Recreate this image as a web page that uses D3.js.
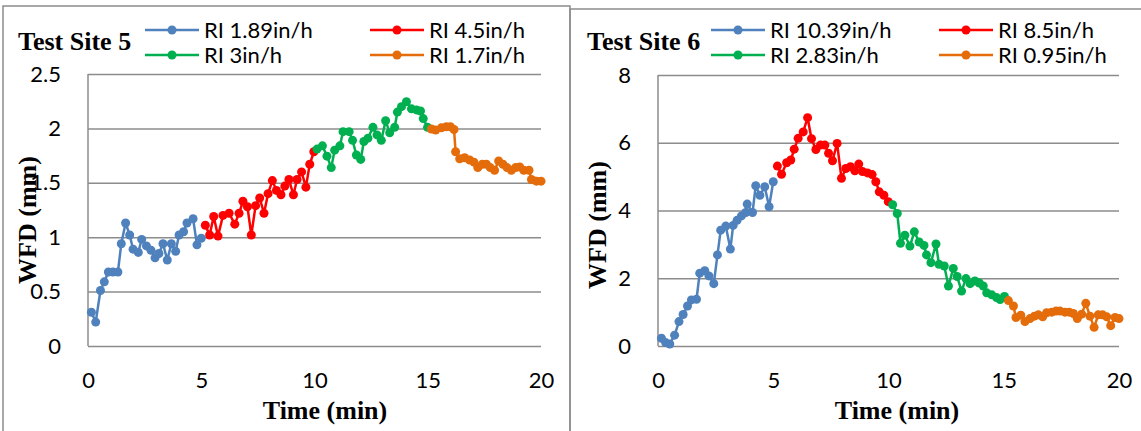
<!DOCTYPE html>
<html lang="en">
  <head>
    <meta charset="utf-8" />
    <script src="https://d3js.org/d3.v7.min.js" charset="utf-8"></script>
  </head>

  <style>
    body {
      margin: 0;
      background: #fff;
    }
    .tick-label {
      font-family: 'Lato', 'Open Sans', sans-serif;
      font-size: 22px;
      fill: #000;
    }
    .legend-text {
      font-family: 'Lato', 'Open Sans', sans-serif;
      font-size: 22px;
      fill: #000;
    }
    .serif-bold {
      font-family: 'Liberation Serif', 'DejaVu Serif', serif;
      font-weight: bold;
      font-size: 26px;
      fill: #000;
    }
  </style>

  <body>
    <div id="chart"></div>

    <script type="text/javascript">
      // data //--------------------------------------------------------

      // [time (min), WFD (mm)]
      var site5_ri189 = [
        [0.15, 0.31], [0.34, 0.22], [0.55, 0.51], [0.72, 0.59], [0.9, 0.68],
        [1.1, 0.68], [1.32, 0.68], [1.47, 0.94], [1.66, 1.13], [1.84, 1.02],
        [1.99, 0.89], [2.22, 0.86], [2.37, 0.98], [2.58, 0.92], [2.78, 0.88],
        [2.96, 0.81], [3.13, 0.85], [3.31, 0.94], [3.5, 0.79], [3.68, 0.94],
        [3.87, 0.87], [4.02, 1.02], [4.22, 1.05], [4.37, 1.13], [4.64, 1.17],
        [4.81, 0.93], [5.0, 0.99]
      ];
      var site5_ri45 = [
        [5.18, 1.11], [5.37, 1.02], [5.55, 1.19], [5.74, 1.01], [5.96, 1.2],
        [6.23, 1.22], [6.48, 1.12], [6.67, 1.22], [6.84, 1.33], [7.04, 1.28],
        [7.21, 1.02], [7.4, 1.29], [7.58, 1.36], [7.77, 1.22], [7.95, 1.4],
        [8.14, 1.52], [8.32, 1.43], [8.52, 1.39], [8.69, 1.47], [8.87, 1.53],
        [9.07, 1.39], [9.23, 1.53], [9.43, 1.6], [9.62, 1.46], [9.79, 1.67],
        [9.97, 1.785]
      ];
      var site5_ri3 = [
        [10.11, 1.81], [10.35, 1.84], [10.55, 1.745], [10.74, 1.64], [10.89, 1.8],
        [11.12, 1.84], [11.26, 1.97], [11.53, 1.97], [11.68, 1.89], [11.85, 1.755],
        [12.04, 1.715], [12.18, 1.88], [12.36, 1.91], [12.58, 2.01], [12.76, 1.94],
        [12.95, 1.89], [13.14, 2.07], [13.32, 1.96], [13.54, 2.01], [13.66, 2.15],
        [13.84, 2.2], [14.06, 2.245], [14.28, 2.18], [14.5, 2.17], [14.68, 2.16],
        [14.8, 2.09], [14.99, 2.01]
      ];
      var site5_ri17 = [
        [15.16, 1.995], [15.35, 1.985], [15.6, 2.005], [15.82, 2.015], [16.0, 2.015],
        [16.16, 1.99], [16.23, 1.785], [16.41, 1.72], [16.63, 1.73], [16.85, 1.71],
        [17.04, 1.69], [17.21, 1.64], [17.41, 1.67], [17.59, 1.67], [17.76, 1.64],
        [17.95, 1.615], [18.13, 1.7], [18.32, 1.67], [18.5, 1.64], [18.69, 1.615],
        [18.88, 1.64], [19.06, 1.645], [19.24, 1.615], [19.47, 1.615], [19.58, 1.53],
        [19.8, 1.515], [20.0, 1.515]
      ];

      var site6_ri1039 = [
        [0.15, 0.23], [0.33, 0.1], [0.51, 0.06], [0.72, 0.32], [0.91, 0.72],
        [1.09, 0.93], [1.28, 1.18], [1.45, 1.36], [1.67, 1.38], [1.81, 2.15],
        [2.03, 2.22], [2.21, 2.07], [2.42, 1.84], [2.58, 2.69], [2.72, 3.42],
        [2.94, 3.54], [3.14, 2.86], [3.26, 3.56], [3.43, 3.71], [3.62, 3.84],
        [3.81, 3.94], [3.87, 4.19], [4.1, 3.94], [4.24, 4.73], [4.42, 4.45],
        [4.63, 4.7], [4.82, 4.11], [5.0, 4.85]
      ];
      var site6_ri85 = [
        [5.18, 5.31], [5.36, 5.07], [5.58, 5.41], [5.76, 5.49], [5.91, 5.81],
        [6.08, 6.13], [6.3, 6.32], [6.49, 6.74], [6.66, 6.12], [6.85, 5.8],
        [7.05, 5.93], [7.24, 5.93], [7.4, 5.69], [7.57, 5.47], [7.77, 5.98],
        [7.96, 4.95], [8.15, 5.24], [8.35, 5.29], [8.54, 5.17], [8.71, 5.37],
        [8.87, 5.15], [9.09, 5.11], [9.29, 5.06], [9.45, 4.85], [9.6, 4.55],
        [9.8, 4.45], [9.99, 4.26]
      ];
      var site6_ri283 = [
        [10.18, 4.17], [10.38, 3.91], [10.52, 3.03], [10.71, 3.27], [10.93, 2.95],
        [11.12, 3.37], [11.33, 3.07], [11.54, 2.97], [11.65, 2.69], [11.84, 2.46],
        [12.06, 3.01], [12.19, 2.41], [12.42, 2.36], [12.6, 1.77], [12.81, 2.29],
        [12.98, 2.05], [13.17, 1.62], [13.36, 1.99], [13.54, 1.84], [13.75, 1.92],
        [13.94, 1.86], [14.11, 1.77], [14.26, 1.57], [14.48, 1.51], [14.69, 1.43],
        [14.84, 1.37], [15.03, 1.46]
      ];
      var site6_ri095 = [
        [15.2, 1.34], [15.42, 1.18], [15.53, 0.84], [15.74, 0.91], [15.92, 0.72],
        [16.14, 0.81], [16.33, 0.88], [16.5, 0.92], [16.69, 0.86], [16.86, 0.98],
        [17.08, 1.0], [17.27, 1.03], [17.44, 1.03], [17.66, 1.0], [17.84, 1.0],
        [18.02, 0.96], [18.19, 0.81], [18.38, 0.94], [18.56, 1.26], [18.74, 0.88],
        [18.92, 0.55], [19.1, 0.92], [19.29, 0.92], [19.47, 0.86], [19.64, 0.6],
        [19.83, 0.84], [20.0, 0.81]
      ];

      var x_ticks = [0, 5, 10, 15, 20];
      var site5_y_ticks = [0, 0.5, 1, 1.5, 2, 2.5];
      var site6_y_ticks = [0, 2, 4, 6, 8];

      var site5_names = ['RI 1.89in/h', 'RI 4.5in/h', 'RI 3in/h', 'RI 1.7in/h'];
      var site6_names = ['RI 10.39in/h', 'RI 8.5in/h', 'RI 2.83in/h', 'RI 0.95in/h'];

      var series_colors = ['#4f81bd', '#ff0000', '#00b050', '#e46c0a'];
      var grid_color = '#8c8c8c';

      // panels //------------------------------------------------------

      var panels = [
        {
          title: 'Test Site 5',
          title_x: 18,
          series: [site5_ri189, site5_ri45, site5_ri3, site5_ri17],
          names: site5_names,
          y_ticks: site5_y_ticks,
          y_max: 2.5,
          plot: { left: 88, right: 541, top: 74, bottom: 346 },
          legend: { cols: [145, 370], rows: [30, 55] },
          frame: { x: 3, y: 6, w: 567 },
          x_title: 325,
          y_title_x: 27,
          y_title_y: 220,
        },
        {
          title: 'Test Site 6',
          title_x: 587,
          series: [site6_ri1039, site6_ri85, site6_ri283, site6_ri095],
          names: site6_names,
          y_ticks: site6_y_ticks,
          y_max: 8,
          plot: { left: 658, right: 1119, top: 75, bottom: 346 },
          legend: { cols: [711, 939], rows: [30, 55] },
          frame: { x: 570, y: 9, w: 600 },
          x_title: 897,
          y_title_x: 597,
          y_title_y: 225,
        },
      ];

      var svg = d3
        .select('#chart')
        .append('svg')
        .attr('width', 1141)
        .attr('height', 431);

      function DrawPanel(p) {
        var g = svg.append('g');

        // frame around the panel
        g.append('rect')
          .attr('x', p.frame.x)
          .attr('y', p.frame.y)
          .attr('width', p.frame.w)
          .attr('height', 500)
          .attr('fill', 'none')
          .attr('stroke', grid_color)
          .attr('stroke-width', 1.5);

        var scale_x = d3
          .scaleLinear()
          .domain([0, 20])
          .range([p.plot.left, p.plot.right]);
        var scale_y = d3
          .scaleLinear()
          .domain([0, p.y_max])
          .range([p.plot.bottom, p.plot.top]);

        // gridlines + y labels
        var y_axis = g
          .append('g')
          .attr('transform', 'translate(' + p.plot.left + ',0)')
          .call(
            d3
              .axisLeft(scale_y)
              .tickValues(p.y_ticks)
              .tickSize(-(p.plot.right - p.plot.left))
              .tickPadding(27)
              .tickFormat(d3.format('~g'))
          );
        y_axis.select('.domain').remove();
        y_axis
          .selectAll('line')
          .attr('stroke', grid_color)
          .attr('stroke-width', 1.5);
        y_axis
          .selectAll('text')
          .attr('class', 'tick-label')
          .attr('font-family', null)
          .attr('font-size', null);

        // vertical axis line
        g.append('line')
          .attr('x1', p.plot.left)
          .attr('x2', p.plot.left)
          .attr('y1', scale_y(0))
          .attr('y2', scale_y(p.y_max))
          .attr('stroke', grid_color)
          .attr('stroke-width', 1.5);

        // x labels
        var x_axis = g
          .append('g')
          .attr('transform', 'translate(0,' + p.plot.bottom + ')')
          .call(
            d3.axisBottom(scale_x).tickValues(x_ticks).tickSize(0).tickPadding(26)
          );
        x_axis.select('.domain').remove();
        x_axis
          .selectAll('text')
          .attr('class', 'tick-label')
          .attr('font-family', null)
          .attr('font-size', null);

        // series
        var line = d3
          .line()
          .x(function (d) {
            return scale_x(d[0]);
          })
          .y(function (d) {
            return scale_y(d[1]);
          });

        p.series.forEach(function (data, i) {
          g.append('path')
            .datum(data)
            .attr('d', line)
            .attr('fill', 'none')
            .attr('stroke', series_colors[i])
            .attr('stroke-width', 2.5)
            .attr('stroke-linejoin', 'round');

          g.append('g')
            .selectAll('circle')
            .data(data)
            .join('circle')
            .attr('cx', function (d) {
              return scale_x(d[0]);
            })
            .attr('cy', function (d) {
              return scale_y(d[1]);
            })
            .attr('r', 4.5)
            .attr('fill', series_colors[i]);
        });

        // titles
        g.append('text')
          .attr('class', 'serif-bold')
          .attr('x', p.title_x)
          .attr('y', 50)
          .text(p.title);

        g.append('text')
          .attr('class', 'serif-bold')
          .attr('x', p.x_title)
          .attr('y', 419)
          .attr('text-anchor', 'middle')
          .text('Time (min)');

        g.append('text')
          .attr('class', 'serif-bold')
          .attr('text-anchor', 'middle')
          .attr(
            'transform',
            'translate(' + (p.y_title_x + 9) + ',' + p.y_title_y + ') rotate(-90)'
          )
          .text('WFD (mm)');

        // legend, two columns x two rows
        p.names.forEach(function (name, i) {
          var lx = p.legend.cols[i % 2];
          var ly = p.legend.rows[Math.floor(i / 2)];
          var lg = g.append('g').attr('transform', 'translate(' + lx + ',' + ly + ')');
          lg.append('line')
            .attr('x1', 0)
            .attr('x2', 54)
            .attr('y1', 0)
            .attr('y2', 0)
            .attr('stroke', series_colors[i])
            .attr('stroke-width', 2.5);
          lg.append('circle')
            .attr('cx', 27)
            .attr('cy', 0)
            .attr('r', 4.5)
            .attr('fill', series_colors[i]);
          lg.append('text')
            .attr('class', 'legend-text')
            .attr('x', 59)
            .attr('y', 0)
            .attr('dy', '0.36em')
            .text(name);
        });
      }

      panels.forEach(DrawPanel);
    </script>
  </body>
</html>
